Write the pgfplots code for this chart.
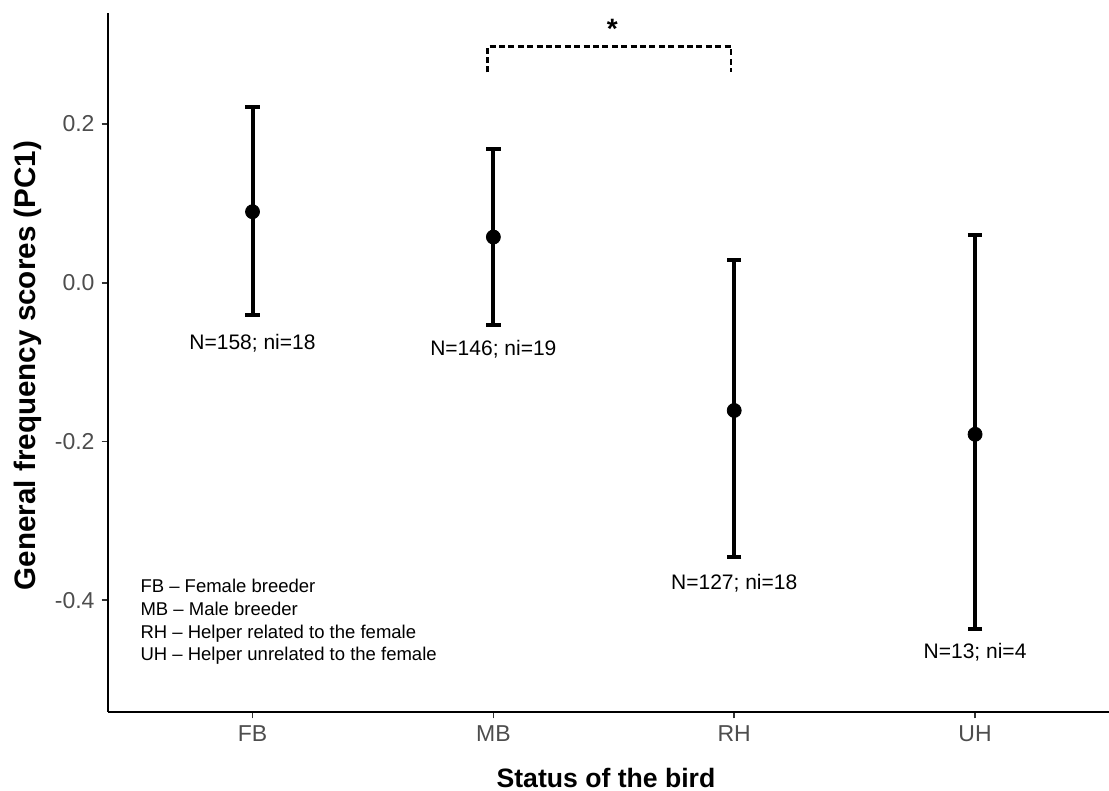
\documentclass[border=0pt]{standalone}
\usepackage{fontspec}
\setmainfont{Liberation Sans}
\usepackage{pgfplots}
\pgfplotsset{compat=1.18}

\definecolor{ticktext}{HTML}{4D4D4D}

\begin{document}
\begin{tikzpicture}
% page = 1109x791 px at 0.5pt per px; axis box lower left at px (108,712)
\useasboundingbox (-54pt,-39.5pt) rectangle (500.5pt,356pt);
\begin{axis}[
  at={(0,0)}, anchor=south west,
  scale only axis, width=500.5pt, height=349.5pt,
  xmin=0.4, xmax=4.556, ymin=-0.541, ymax=0.340,
  axis lines*=left, axis line style={line width=0.9pt, black},
  tick align=outside, major tick length=3.2pt,
  tick style={line width=0.8pt, black!80},
  xtick={1,2,3,4}, xticklabels={FB,MB,RH,UH},
  ytick={-0.4,-0.2,0,0.2},
  yticklabel style={/pgf/number format/.cd, fixed, fixed zerofill, precision=1, assume math mode=true},
  ticklabel style={font=\fontsize{11.5}{13}\selectfont, text=ticktext},
  xlabel={Status of the bird},
  ylabel={General frequency scores (PC1)},
  xlabel style={font=\bfseries\fontsize{13.3}{16}\selectfont,
    at={(axis description cs:0.4975,0)}, anchor=base, yshift=-38pt},
  ylabel style={font=\bfseries\fontsize{14.8}{17}\selectfont,
    at={(axis description cs:-0.0729,0.4957)}, anchor=base},
  clip=false,
]
\addplot[black, only marks, mark=*, mark size=3.5pt,
  error bars/.cd, y dir=both, y explicit,
  error bar style={line width=2pt, black},
  error mark options={line width=2pt, black, rotate=90, mark size=3.6pt}]
coordinates {
  (1,0.0895)  += (0,0.1320) -= (0,0.1298)
  (2,0.0576)  += (0,0.1114) -= (0,0.1114)
  (3,-0.1610) += (0,0.1900) -= (0,0.1850)
  (4,-0.1910) += (0,0.2515) -= (0,0.2460)
};

\begin{scope}[font=\fontsize{10.5}{12}\selectfont]
\node[anchor=base] at (axis cs:1,-0.0845) {N=158; ni=18};
\node[anchor=base] at (axis cs:2,-0.0920) {N=146; ni=19};
\node[anchor=base] at (axis cs:3,-0.3860) {N=127; ni=18};
\node[anchor=base] at (axis cs:4,-0.4730) {N=13; ni=4};
\end{scope}

\begin{scope}[font=\fontsize{9.25}{11}\selectfont]
\node[anchor=base west, inner sep=0pt] at (axis cs:0.5335,-0.3910) {FB -- Female breeder};
\node[anchor=base west, inner sep=0pt] at (axis cs:0.5335,-0.4194) {MB -- Male breeder};
\node[anchor=base west, inner sep=0pt] at (axis cs:0.5335,-0.4479) {RH -- Helper related to the female};
\node[anchor=base west, inner sep=0pt] at (axis cs:0.5335,-0.4760) {UH -- Helper unrelated to the female};
\end{scope}

\draw[line width=1.2pt, dash pattern=on 3pt off 1.7pt]
  (axis cs:1.976,0.265) -- (axis cs:1.976,0.298) -- (axis cs:2.986,0.298) -- (axis cs:2.986,0.265);
\node[font=\bfseries\fontsize{14}{16}\selectfont] at (axis cs:2.494,0.3197) {*};
\end{axis}
\end{tikzpicture}
\end{document}
